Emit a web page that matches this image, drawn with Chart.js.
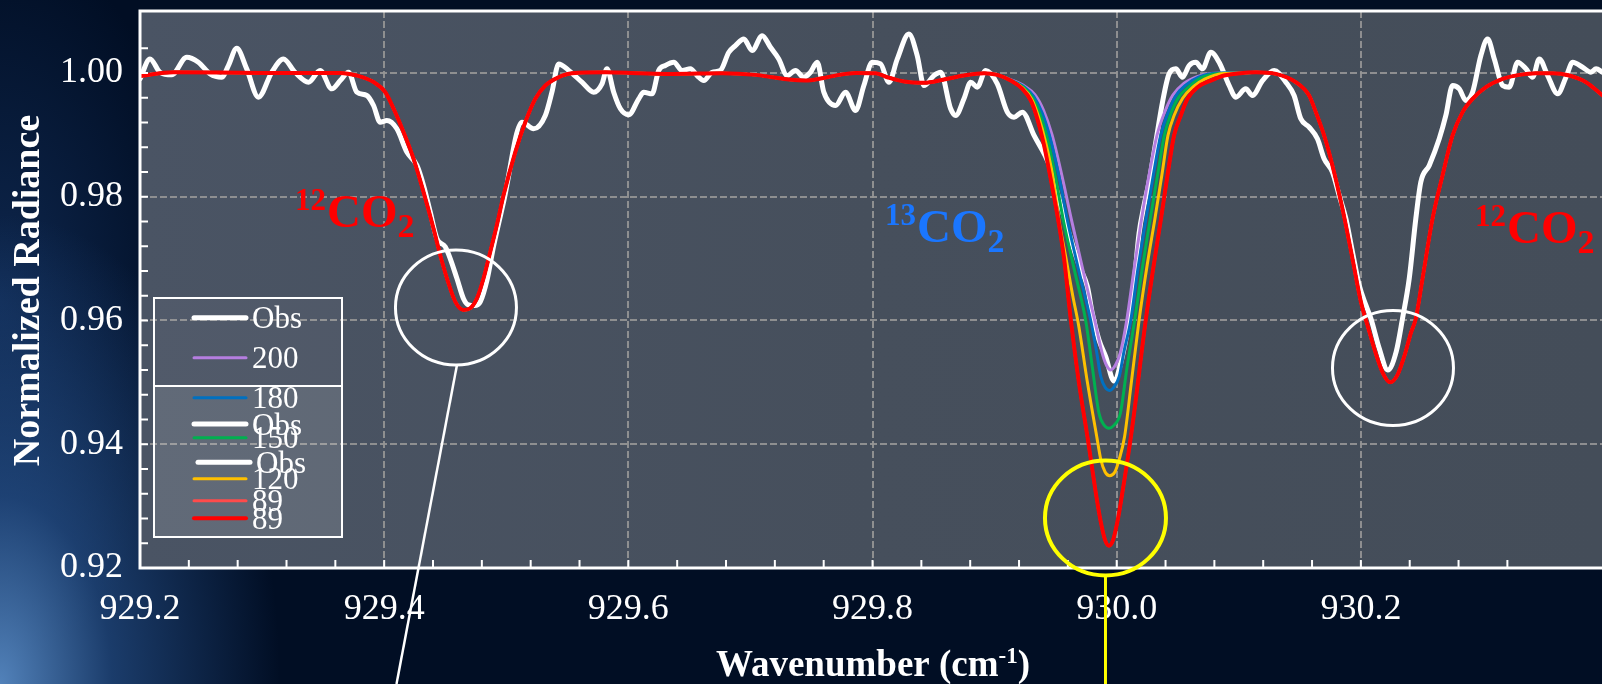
<!DOCTYPE html>
<html>
<head>
<meta charset="utf-8">
<script src="https://cdn.jsdelivr.net/npm/chart.js@4.4.1/dist/chart.umd.min.js"></script>
<style>
  html, body { margin: 0; padding: 0; width: 1602px; height: 684px; overflow: hidden; }
  body {
    background:
      radial-gradient(ellipse 280px 470px at 0px 684px, rgba(96,150,212,0.85) 0%, rgba(48,98,165,0.55) 40%, rgba(10,35,80,0) 100%),
      radial-gradient(ellipse 200px 360px at 0px 300px, rgba(30,70,130,0.45) 0%, rgba(10,35,80,0) 100%),
      #010e24;
  }
  canvas { display: block; }
</style>
</head>
<body>
<canvas id="spectrum" width="1602" height="684"></canvas>
<script>
// Observed spectrum: [wavenumber (cm-1), normalized radiance]
const obsSpectrum = [
  [929.2000,0.99903],[929.2082,1.00226],[929.2164,1.00010],[929.2260,0.99970],[929.2383,1.00253],
  [929.2478,1.00172],[929.2574,0.99984],[929.2669,0.99930],[929.2724,1.00118],[929.2792,1.00398],
  [929.2874,1.00065],[929.2970,0.99608],[929.3079,1.00010],[929.3175,1.00226],[929.3270,1.00010],
  [929.3380,0.99850],[929.3475,1.00040],[929.3571,0.99742],[929.3640,0.99876],[929.3708,1.00010],
  [929.3776,0.99688],[929.3858,0.99634],[929.3913,0.99473],[929.3967,0.99204],[929.4022,0.99231],
  [929.4104,0.99097],[929.4186,0.98720],[929.4268,0.98505],[929.4322,0.98183],[929.4377,0.97753],
  [929.4432,0.97323],[929.4500,0.97190],[929.4541,0.97000],[929.4596,0.96677],[929.4650,0.96350],
  [929.4691,0.96250],[929.4740,0.96240],[929.4787,0.96300],[929.4842,0.96650],[929.4896,0.97200],
  [929.4978,0.97914],[929.5129,0.99204],[929.5224,0.99097],[929.5320,0.99312],[929.5374,0.99688],
  [929.5429,1.00145],[929.5511,1.00040],[929.5620,0.99850],[929.5716,0.99688],[929.5784,0.99823],
  [929.5825,1.00065],[929.5880,0.99688],[929.5935,0.99420],[929.6003,0.99323],[929.6085,0.99581],
  [929.6126,0.99688],[929.6194,0.99661],[929.6249,1.00040],[929.6303,1.00120],[929.6372,1.00172],
  [929.6440,1.00040],[929.6508,1.00065],[929.6563,0.99957],[929.6618,0.99876],[929.6686,1.00010],
  [929.6754,1.00040],[929.6823,1.00333],[929.6877,1.00441],[929.6946,1.00548],[929.7014,1.00360],
  [929.7096,1.00602],[929.7164,1.00414],[929.7232,1.00226],[929.7301,0.99957],[929.7369,1.00040],
  [929.7437,0.99930],[929.7492,1.00010],[929.7547,1.00172],[929.7601,0.99688],[929.7697,0.99473],
  [929.7779,0.99688],[929.7861,0.99392],[929.7929,0.99796],[929.7997,1.00172],[929.8066,1.00145],
  [929.8134,0.99849],[929.8203,1.00226],[929.8298,1.00629],[929.8366,1.00280],[929.8421,0.99796],
  [929.8503,0.99957],[929.8558,1.00010],[929.8640,0.99420],[929.8681,0.99312],[929.8749,0.99581],
  [929.8804,0.99850],[929.8858,0.99769],[929.8927,1.00040],[929.9022,0.99823],[929.9104,0.99366],
  [929.9159,0.99285],[929.9227,0.99366],[929.9323,0.98989],[929.9450,0.98500],[929.9550,0.97800],
  [929.9692,0.96892],[929.9760,0.96546],[929.9800,0.96116],[929.9855,0.95685],[929.9910,0.95416],
  [929.9978,0.95020],[930.0033,0.95310],[930.0088,0.95847],[930.0142,0.96600],[930.0183,0.97406],
  [930.0224,0.97860],[930.0265,0.98237],[930.0320,0.98882],[930.0375,0.99527],[930.0429,0.99984],
  [930.0484,1.00065],[930.0539,0.99930],[930.0593,1.00118],[930.0648,1.00172],[930.0703,1.00065],
  [930.0771,1.00333],[930.0839,1.00172],[930.0921,0.99796],[930.0976,0.99608],[930.1057,0.99742],
  [930.1112,0.99634],[930.1194,0.99876],[930.1290,1.00040],[930.1385,0.99850],[930.1453,0.99634],
  [930.1508,0.99258],[930.1576,0.99124],[930.1644,0.98935],[930.1699,0.98613],[930.1767,0.98398],
  [930.1822,0.98022],[930.1877,0.97645],[930.1931,0.97108],[930.1986,0.96570],[930.2041,0.96247],
  [930.2082,0.96032],[930.2150,0.95550],[930.2220,0.95200],[930.2290,0.95500],[930.2341,0.96032],
  [930.2396,0.96677],[930.2450,0.97645],[930.2491,0.98237],[930.2560,0.98505],[930.2642,0.98935],
  [930.2696,0.99312],[930.2751,0.99796],[930.2806,0.99742],[930.2860,0.99554],[930.2915,0.99688],
  [930.2983,1.00280],[930.3038,1.00548],[930.3093,1.00226],[930.3161,0.99796],[930.3215,0.99769],
  [930.3284,1.00172],[930.3352,1.00065],[930.3407,0.99930],[930.3461,1.00226],[930.3530,0.99957],
  [930.3612,0.99661],[930.3680,0.99930],[930.3735,1.00172],[930.3816,1.00091],[930.3885,1.00010],
  [930.3926,1.00065],[930.3980,1.00010]
];

// Simulated spectrum, 89 ppm case, over the whole window
const model89 = [
  [929.2000,0.99949],[929.2273,1.00010],[929.3000,1.00000],[929.3640,1.00000],[929.3776,0.99957],
  [929.3913,0.99852],[929.4008,0.99691],[929.4077,0.99422],[929.4158,0.99046],[929.4240,0.98616],
  [929.4322,0.98078],[929.4404,0.97487],[929.4459,0.97057],[929.4514,0.96681],[929.4582,0.96305],
  [929.4650,0.96170],[929.4705,0.96197],[929.4760,0.96358],[929.4814,0.96681],[929.4869,0.97111],
  [929.4923,0.97541],[929.4978,0.98025],[929.5074,0.98720],[929.5156,0.99204],[929.5238,0.99581],
  [929.5320,0.99796],[929.5429,0.99930],[929.5538,0.99995],[929.5812,1.00010],[929.6085,0.99995],
  [929.6358,0.99984],[929.6768,0.99995],[929.7041,0.99968],[929.7178,0.99930],[929.7314,0.99892],
  [929.7451,0.99876],[929.7588,0.99914],[929.7724,0.99968],[929.7861,1.00000],[929.8025,0.99995],
  [929.8121,0.99930],[929.8257,0.99860],[929.8421,0.99839],[929.8585,0.99892],[929.8749,0.99957],
  [929.8913,0.99995],
  [929.9022,0.99968],[929.9132,0.99876],[929.9227,0.99742],[929.9296,0.99554],[929.9350,0.99258],
  [929.9405,0.98828],[929.9459,0.98290],[929.9521,0.97620],[929.9569,0.97000],[929.9623,0.96030],
  [929.9690,0.95000],[929.9760,0.94126],[929.9842,0.93052],[929.9870,0.92740],[929.9905,0.92450],
  [929.9937,0.92360],[929.9970,0.92450],[930.0005,0.92740],[930.0033,0.93052],[930.0128,0.94287],
  [930.0238,0.96008],[930.0300,0.96850],[930.0361,0.97621],[930.0416,0.98344],[930.0470,0.98989],
  [930.0525,0.99312],[930.0580,0.99581],[930.0662,0.99769],[930.0771,0.99876],[930.0880,0.99957],
  [930.1017,0.99995],[930.1139,1.00010],[930.1303,0.99984],[930.1467,0.99850],[930.1576,0.99634],
  [930.1631,0.99366],[930.1699,0.98989],[930.1767,0.98505],[930.1849,0.97806],[930.1931,0.97000],
  [930.2000,0.96301],[930.2054,0.95925],[930.2120,0.95480],[930.2180,0.95150],[930.2240,0.95000],
  [930.2300,0.95120],[930.2360,0.95450],[930.2410,0.95800],[930.2450,0.96032],[930.2505,0.96677],
  [930.2587,0.97645],[930.2669,0.98344],[930.2751,0.98989],[930.2833,0.99366],[930.2915,0.99581],
  [930.3024,0.99769],[930.3161,0.99903],[930.3297,0.99968],[930.3434,0.99995],[930.3571,0.99995],
  [930.3707,0.99957],[930.3844,0.99850],[930.3980,0.99634]
];

// The other cases only differ on the 13CO2 line; these hold that part
const line13Model120 = [
  [929.9022,0.99968],[929.9132,0.99878],[929.9235,0.99750],[929.9303,0.99580],[929.9360,0.99290],
  [929.9420,0.98860],[929.9475,0.98340],[929.9527,0.97620],[929.9585,0.97000],[929.9640,0.96400],
  [929.9690,0.95900],[929.9760,0.95000],[929.9836,0.94130],[929.9870,0.93750],[929.9905,0.93550],
  [929.9943,0.93490],[929.9985,0.93550],[930.0020,0.93750],[930.0065,0.94130],[930.0120,0.95000],
  [930.0183,0.96000],[930.0250,0.96900],[930.0311,0.97620],[930.0370,0.98350],[930.0420,0.98990],
  [930.0470,0.99310],[930.0540,0.99590],[930.0630,0.99780],[930.0720,0.99900],[930.0880,0.99990]
];
const line13Model150 = [
  [929.9022,0.99968],[929.9132,0.99880],[929.9240,0.99760],[929.9310,0.99600],[929.9375,0.99320],
  [929.9437,0.98900],[929.9500,0.98300],[929.9563,0.97620],[929.9655,0.96800],[929.9746,0.96000],
  [929.9800,0.95250],[929.9855,0.94500],[929.9900,0.94300],[929.9937,0.94260],[929.9975,0.94300],
  [930.0030,0.94500],[930.0085,0.95250],[930.0147,0.96000],[930.0210,0.96850],[930.0273,0.97620],
  [930.0335,0.98350],[930.0390,0.98990],[930.0440,0.99320],[930.0505,0.99600],[930.0600,0.99790],
  [930.0690,0.99920],[930.0790,0.99980],[930.0880,0.99995]
];
const line13Model180 = [
  [929.9022,0.99968],[929.9132,0.99885],[929.9245,0.99770],[929.9320,0.99620],[929.9390,0.99350],
  [929.9455,0.98950],[929.9525,0.98350],[929.9596,0.97620],[929.9690,0.96800],[929.9787,0.96000],
  [929.9835,0.95500],[929.9870,0.95090],[929.9905,0.94920],[929.9940,0.94870],[929.9975,0.94920],
  [930.0020,0.95090],[930.0060,0.95500],[930.0115,0.96000],[930.0175,0.96850],[930.0238,0.97620],
  [930.0300,0.98350],[930.0360,0.98990],[930.0415,0.99330],[930.0480,0.99620],[930.0570,0.99810],
  [930.0670,0.99930],[930.0780,0.99990],[930.0880,1.00000]
];
const line13Model200 = [
  [929.9022,0.99968],[929.9132,0.99890],[929.9250,0.99780],[929.9330,0.99650],[929.9400,0.99400],
  [929.9470,0.99000],[929.9550,0.98350],[929.9630,0.97620],[929.9725,0.96800],[929.9820,0.96000],
  [929.9880,0.95480],[929.9915,0.95280],[929.9950,0.95200],[929.9990,0.95280],[930.0030,0.95480],
  [930.0082,0.96000],[930.0140,0.96800],[930.0202,0.97620],[930.0265,0.98350],[930.0330,0.98990],
  [930.0390,0.99350],[930.0460,0.99640],[930.0550,0.99830],[930.0660,0.99940],[930.0771,0.99990],
  [930.0880,1.00000]
];

// Axis ranges and tick steps
const xRange = [929.2, 930.3975];
const yRange = [0.92, 1.01];
const xMajorStep = 0.2, xMinorStep = 0.04;
const yMajorStep = 0.02, yMinorStep = 0.004;

// Line annotations: [wavenumber, radiance] of the label anchor (text baseline)
const bandLabels = [
  { mass: '12', at: [929.3270, 0.97510], color: '#ff0000' },
  { mass: '13', at: [929.8102, 0.97268], color: '#1a76ff' },
  { mass: '12', at: [930.2935, 0.97251], color: '#ff0000' }
];
// Highlighted line centres: [wavenumber, radiance]
const markedLines = [
  { at: [929.4588, 0.96209], color: '#ffffff', lead: [929.4101, 0.92] },
  { at: [930.2263, 0.95232], color: '#ffffff' },
  { at: [929.9908, 0.92808], color: '#ffff00', lead: [929.9908, 0.92] }
];

const SERIF = '"Liberation Serif", "Times New Roman", serif';

// Other cases = the 89 ppm spectrum outside the 13CO2 line + their own line profile
function withLine(linePts) {
  const lo = linePts[0][0], hi = linePts[linePts.length - 1][0];
  const pts = model89.filter(p => p[0] < lo || p[0] > hi).concat(linePts);
  pts.sort((a, b) => a[0] - b[0]);
  return pts.map(p => ({ x: p[0], y: p[1] }));
}
const toXY = arr => arr.map(p => ({ x: p[0], y: p[1] }));

const series = {
  m89:  { label: '89',  color: '#ff0000', width: 4, data: toXY(model89) },
  m89b: { label: '89',  color: '#ff4b4b', width: 3, data: toXY(model89) },
  m120: { label: '120', color: '#ffc000', width: 3, data: withLine(line13Model120) },
  m150: { label: '150', color: '#00b050', width: 3, data: withLine(line13Model150) },
  m180: { label: '180', color: '#0070c0', width: 3, data: withLine(line13Model180) },
  m200: { label: '200', color: '#b57ee0', width: 3, data: withLine(line13Model200) },
  obs:  { label: 'Obs', color: '#ffffff', width: 5, data: toXY(obsSpectrum) }
};
// first entry is painted last (on top)
const drawOrder = ['m89', 'm89b', 'm120', 'm150', 'm180', 'm200', 'obs'];

const legendRows = [
  { key: 'obs',  y: 317.7, dx: 0 },
  { key: 'm200', y: 357.7, dx: 0 },
  { key: 'm180', y: 397.7, dx: 0 },
  { key: 'obs',  y: 424.0, dx: 0 },
  { key: 'm150', y: 437.7, dx: 0 },
  { key: 'obs',  y: 462.3, dx: 4 },
  { key: 'm120', y: 478.7, dx: 0 },
  { key: 'm89b', y: 500.7, dx: 0 },
  { key: 'm89',  y: 518.3, dx: 0 }
];

const onStep = (v, step) => Math.abs(v / step - Math.round(v / step)) < 1e-6;

// keep the plot frame fixed: no extra room around the axes for edge labels
function fixedBox(size) {
  return function (scale) {
    if (scale.isHorizontal()) scale.height = size; else scale.width = size;
    scale.paddingLeft = 0; scale.paddingRight = 0;
    scale.paddingTop = 0; scale.paddingBottom = 0;
  };
}

const decorations = {
  id: 'decorations',
  beforeDraw(chart) {
    const { ctx, chartArea: a } = chart;
    ctx.save();
    const g = ctx.createLinearGradient(a.left, 0, a.right, 0);
    g.addColorStop(0, '#4a5464');
    g.addColorStop(0.5, '#464f5c');
    g.addColorStop(1, '#444d59');
    ctx.fillStyle = g;
    ctx.fillRect(a.left, a.top, a.right - a.left, a.bottom - a.top);
    ctx.restore();
  },
  afterDraw(chart) {
    const { ctx, chartArea: a } = chart;
    const xs = chart.scales.x, ys = chart.scales.y;
    ctx.save();

    // frame: left, bottom and top lines
    ctx.strokeStyle = '#ffffff';
    ctx.lineWidth = 3;
    ctx.beginPath();
    ctx.moveTo(a.right + 2, a.top); ctx.lineTo(a.left, a.top);
    ctx.lineTo(a.left, a.bottom); ctx.lineTo(a.right + 2, a.bottom);
    ctx.stroke();

    // inward tick marks
    ctx.lineWidth = 2;
    ctx.beginPath();
    xs.ticks.forEach(t => {
      if (!onStep(t.value, xMinorStep)) return;
      const px = xs.getPixelForValue(t.value);
      if (px <= a.left + 2 || px >= a.right - 1) return;
      ctx.moveTo(px, a.bottom); ctx.lineTo(px, a.bottom - 8);
    });
    ys.ticks.forEach(t => {
      if (!onStep(t.value, yMinorStep)) return;
      const py = ys.getPixelForValue(t.value);
      if (py >= a.bottom - 2 || py <= a.top + 2) return;
      ctx.moveTo(a.left, py); ctx.lineTo(a.left + 8, py);
    });
    ctx.stroke();

    // band labels, e.g. 12CO2
    bandLabels.forEach(b => {
      const x = xs.getPixelForValue(b.at[0]);
      const y = ys.getPixelForValue(b.at[1]);
      ctx.fillStyle = b.color;
      ctx.textBaseline = 'alphabetic';
      ctx.textAlign = 'left';
      ctx.font = 'bold 31px ' + SERIF;
      ctx.fillText(b.mass, x, y - 17);
      let cx = x + ctx.measureText(b.mass).width + 1;
      ctx.font = 'bold 47px ' + SERIF;
      ctx.fillText('CO', cx, y);
      cx += ctx.measureText('CO').width;
      ctx.font = 'bold 34px ' + SERIF;
      ctx.fillText('2', cx, y + 10);
    });

    // circled lines with leader lines
    markedLines.forEach(m => {
      const cx = xs.getPixelForValue(m.at[0]);
      const cy = ys.getPixelForValue(m.at[1]);
      const yellow = m.color !== '#ffffff';
      ctx.strokeStyle = m.color;
      ctx.lineWidth = yellow ? 4 : 3;
      ctx.beginPath();
      ctx.ellipse(cx, cy, 60.5, 57.5, 0, 0, Math.PI * 2);
      ctx.stroke();
      if (m.lead) {
        const ex = xs.getPixelForValue(m.lead[0]);
        ctx.lineWidth = yellow ? 3 : 2.5;
        ctx.beginPath();
        ctx.moveTo(yellow ? ex : cx + 1, cy + 57.5);
        ctx.lineTo(ex, chart.height);
        ctx.stroke();
      }
    });

    // legend
    const L = { left: 154, top: 298, mid: 386, bottom: 537, right: 342 };
    ctx.fillStyle = 'rgba(255,255,255,0.04)';
    ctx.fillRect(L.left, L.top, L.right - L.left, L.mid - L.top);
    ctx.fillStyle = 'rgba(255,255,255,0.13)';
    ctx.fillRect(L.left, L.mid, L.right - L.left, L.bottom - L.mid);
    ctx.strokeStyle = '#ffffff';
    ctx.lineWidth = 2;
    ctx.strokeRect(L.left, L.top, L.right - L.left, L.mid - L.top);
    ctx.strokeRect(L.left, L.mid, L.right - L.left, L.bottom - L.mid);
    ctx.font = '31px ' + SERIF;
    ctx.textAlign = 'left';
    ctx.textBaseline = 'alphabetic';
    ctx.lineCap = 'round';
    legendRows.forEach(r => {
      const s = series[r.key];
      ctx.strokeStyle = s.color;
      ctx.lineWidth = s.width;
      ctx.beginPath();
      ctx.moveTo(194 + r.dx, r.y); ctx.lineTo(246 + r.dx, r.y);
      ctx.stroke();
      ctx.fillStyle = '#ffffff';
      ctx.fillText(s.label, 252 + r.dx, r.y + 10.5);
    });
    ctx.lineCap = 'butt';

    // axis titles
    ctx.fillStyle = '#ffffff';
    ctx.font = 'bold 37px ' + SERIF;
    const t1 = 'Wavenumber (cm', t2 = '-1', t3 = ')';
    const w1 = ctx.measureText(t1).width, w3 = ctx.measureText(t3).width;
    ctx.font = 'bold 23px ' + SERIF;
    const w2 = ctx.measureText(t2).width;
    let tx = 873 - (w1 + w2 + w3) / 2;
    const tb = 676;
    ctx.font = 'bold 37px ' + SERIF;
    ctx.fillText(t1, tx, tb);
    ctx.font = 'bold 23px ' + SERIF;
    ctx.fillText(t2, tx + w1, tb - 13);
    ctx.font = 'bold 37px ' + SERIF;
    ctx.fillText(t3, tx + w1 + w2, tb);

    ctx.translate(29, (a.top + a.bottom) / 2 + 1);
    ctx.rotate(-Math.PI / 2);
    ctx.textAlign = 'center';
    ctx.textBaseline = 'middle';
    ctx.font = 'bold 38px ' + SERIF;
    ctx.fillText('Normalized Radiance', 0, 0);
    ctx.restore();
  }
};

const gridColor = 'rgba(150,150,150,0.9)';

new Chart(document.getElementById('spectrum'), {
  type: 'line',
  data: {
    datasets: drawOrder.map(k => ({
      label: series[k].label,
      data: series[k].data,
      borderColor: series[k].color,
      borderWidth: series[k].width,
      pointRadius: 0,
      fill: false,
      cubicInterpolationMode: 'monotone',
      borderCapStyle: 'round',
      borderJoinStyle: 'round'
    }))
  },
  options: {
    responsive: false,
    animation: false,
    devicePixelRatio: 1,
    layout: { padding: { top: 11, right: 0, left: 0, bottom: 0 } },
    plugins: { legend: { display: false }, tooltip: { enabled: false } },
    scales: {
      x: {
        type: 'linear',
        min: xRange[0], max: xRange[1],
        afterFit: fixedBox(116),
        border: { display: false, dash: [7, 3] },
        grid: {
          drawTicks: false,
          lineWidth: 2,
          color: c => (c.tick && onStep(c.tick.value, xMajorStep) && c.tick.value > xRange[0] + 1e-6) ? gridColor : 'rgba(0,0,0,0)'
        },
        ticks: {
          stepSize: xMinorStep,
          autoSkip: false,
          maxRotation: 0, minRotation: 0,
          padding: 20,
          color: '#ffffff',
          font: { family: SERIF, size: 36 },
          callback: v => (onStep(v, xMajorStep) && v < 930.39) ? v.toFixed(1) : ''
        }
      },
      y: {
        type: 'linear',
        min: yRange[0], max: yRange[1],
        afterFit: fixedBox(140),
        border: { display: false, dash: [7, 3] },
        grid: {
          drawTicks: false,
          lineWidth: 2,
          color: c => (c.tick && onStep(c.tick.value, yMajorStep) && c.tick.value > yRange[0] + 1e-6) ? gridColor : 'rgba(0,0,0,0)'
        },
        ticks: {
          stepSize: yMinorStep,
          autoSkip: false,
          padding: 17,
          color: '#ffffff',
          font: { family: SERIF, size: 36 },
          callback: v => onStep(v, yMajorStep) ? v.toFixed(2) : ''
        }
      }
    }
  },
  plugins: [decorations]
});
</script>
</body>
</html>
